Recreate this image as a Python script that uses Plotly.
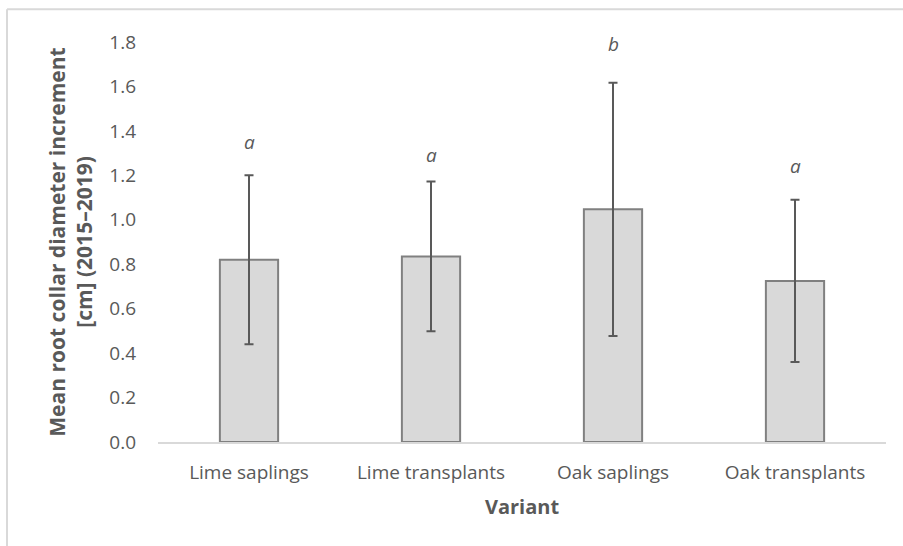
import plotly.graph_objects as go

# Root collar diameter increment per planting variant
variants = ["Lime saplings", "Lime transplants", "Oak saplings", "Oak transplants"]
mean_increment = [0.82, 0.835, 1.047, 0.725]
std_dev = [0.38, 0.337, 0.57, 0.365]
group_letters = ["a", "a", "b", "a"]
letter_height = [1.35, 1.29, 1.79, 1.24]

y_ticks = [0.0, 0.2, 0.4, 0.6, 0.8, 1.0, 1.2, 1.4, 1.6, 1.8]

FONT = "Open Sans"
TEXT_COLOR = "#595959"

fig = go.Figure()
fig.add_trace(go.Bar(
    x=variants,
    y=mean_increment,
    width=0.32,
    marker=dict(color="#d9d9d9", line=dict(color="#808080", width=2)),
    error_y=dict(type="data", array=std_dev, visible=True,
                 color="#595959", thickness=2, width=4.5),
    showlegend=False,
    hoverinfo="x+y",
))

# significance letters above each error bar
for v, h, letter in zip(variants, letter_height, group_letters):
    fig.add_annotation(
        x=v, y=h, yref="y", text=f"<i>{letter}</i>",
        showarrow=False, yanchor="middle",
        font=dict(family=FONT, size=19, color=TEXT_COLOR),
    )

# chart-area frame (left and top edges visible)
frame = dict(type="line", xref="paper", yref="paper",
             line=dict(color="#d9d9d9", width=2))
fig.add_shape(**frame, x0=-0.2074, x1=-0.2074, y0=-0.4, y1=1.0818)
fig.add_shape(**frame, x0=-0.2074, x1=1.1, y0=1.0818, y1=1.0818)

fig.update_layout(
    width=903, height=546,
    margin=dict(l=158, r=17, t=42, b=104),
    plot_bgcolor="white", paper_bgcolor="white",
    font=dict(family=FONT, color=TEXT_COLOR),
    bargap=0.68,
    xaxis=dict(
        showline=True, linecolor="#d9d9d9", linewidth=2,
        ticks="", tickfont=dict(size=19, color=TEXT_COLOR),
        ticklabelstandoff=12,
        title=dict(text="<b>Variant</b>", font=dict(size=20, color=TEXT_COLOR),
                   standoff=16),
    ),
    yaxis=dict(
        range=[0, 1.8], tickvals=y_ticks, tickformat=".1f",
        showgrid=False, zeroline=False, showline=False, ticks="",
        ticklabelstandoff=21,
        tickfont=dict(size=19, color=TEXT_COLOR),
        title=dict(text="<b>Mean root collar diameter increment<br>[cm] (2015–2019)</b>",
                   font=dict(size=21, color=TEXT_COLOR), standoff=10),
    ),
)

fig.write_html("out.html")
